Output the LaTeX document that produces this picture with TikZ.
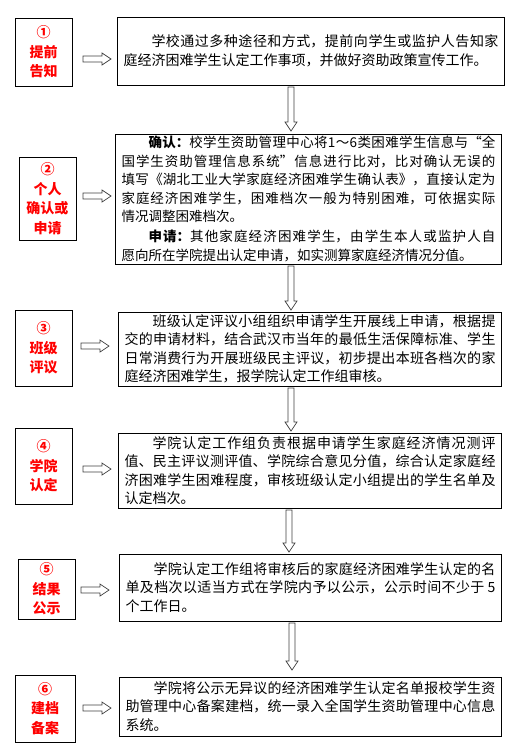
\documentclass[tikz,border=0pt]{standalone}
\usepackage{fontspec}
\setmainfont{Noto Sans CJK SC}
\usetikzlibrary{arrows.meta, positioning, calc}
\XeTeXlinebreaklocale "zh"
\XeTeXlinebreakskip = 0pt plus 4pt
\tikzset{
  stagebox/.style={draw, line width=0.8pt, text=red, align=center,
    font=\fontsize{14}{19.5}\selectfont\bfseries, inner sep=2pt},
  textbox/.style={draw, line width=0.8pt, align=justify, inner xsep=6pt, inner ysep=2pt,
    font=\fontsize{14}{18.5}\selectfont},
  blockarrow/.style={draw=black!75, fill=white, line width=0.7pt}
}
\newcommand{\harrow}[2]{\draw[blockarrow] ($(#1)+(0,-3)$) -- ($(#2)+(-9,-3)$) -- ($(#2)+(-9,-6)$) -- (#2)
  -- ($(#2)+(-9,6)$) -- ($(#2)+(-9,3)$) -- ($(#1)+(0,3)$) -- cycle;}
\newcommand{\varrow}[2]{\draw[blockarrow] ($(#1)+(-3,0)$) -- ($(#2)+(-3,-9)$) -- ($(#2)+(-6,-9)$) -- (#2)
  -- ($(#2)+(6,-9)$) -- ($(#2)+(3,-9)$) -- ($(#1)+(3,0)$) -- cycle;}
\begin{document}
\begin{tikzpicture}[x=1pt, y=-1pt]
  \useasboundingbox (0,0) rectangle (527,755);
  % stages
  \node[stagebox, minimum width=57, minimum height=68] (s1) at (43.5,52) {①\\提前\\告知};
  \node[stagebox, minimum width=57, minimum height=83] (s2) at (47.5,198.5) {②\\个人\\确认或\\申请};
  \node[stagebox, minimum width=57, minimum height=76] (s3) at (43.5,348) {③\\班级\\评议};
  \node[stagebox, minimum width=57, minimum height=76] (s4) at (43.5,466) {④\\学院\\认定};
  \node[stagebox, minimum width=57, minimum height=60] (s5) at (46.5,589) {⑤\\结果\\公示};
  \node[stagebox, minimum width=60, minimum height=67] (s6) at (45,708.5) {⑥\\建档\\备案};
  % descriptions
  \node[textbox, text width=375pt, minimum height=68] (t1) at (311,51) {\hspace*{2em}学校通过多种途径和方式，提前向学生或监护人告知家\linebreak 庭经济困难学生认定工作事项，并做好资助政策宣传工作。};
  \node[textbox, font=\fontsize{13.5}{18.5}\selectfont, text width=374pt, minimum height=130] (t2) at (308.5,199) {\hspace*{2em}\textbf{确认：}校学生资助管理中心将1～6类困难学生信息与“全\linebreak 国学生资助管理信息系统”信息进行比对，比对确认无误的\linebreak 填写《湖北工业大学家庭经济困难学生确认表》，直接认定为\linebreak 家庭经济困难学生，困难档次一般为特别困难，可依据实际\linebreak 情况调整困难档次。\par\vspace{1.5pt}\hspace*{2em}\textbf{申请：}其他家庭经济困难学生，由学生本人或监护人自\linebreak 愿向所在学院提出认定申请，如实测算家庭经济情况分值。};
  \node[textbox, text width=371pt, minimum height=74] (t3) at (310,349) {\hspace*{2em}班级认定评议小组组织申请学生开展线上申请，根据提\linebreak 交的申请材料，结合武汉市当年的最低生活保障标准、学生\linebreak 日常消费行为开展班级民主评议，初步提出本班各档次的家\linebreak 庭经济困难学生，报学院认定工作组审核。};
  \node[textbox, text width=371pt, minimum height=75] (t4) at (310,470.5) {\hspace*{2em}学院认定工作组负责根据申请学生家庭经济情况测评\linebreak 值、民主评议测评值、学院综合意见分值，综合认定家庭经\linebreak 济困难学生困难程度，审核班级认定小组提出的学生名单及\linebreak 认定档次。};
  \node[textbox, text width=370pt, minimum height=67] (t5) at (310.5,587.5) {\hspace*{2em}学院认定工作组将审核后的家庭经济困难学生认定的名\linebreak 单及档次以适当方式在学院内予以公示，公示时间不少于 5\linebreak 个工作日。};
  \node[textbox, text width=370pt, minimum height=59] (t6) at (310.5,706.5) {\hspace*{2em}学院将公示无异议的经济困难学生认定名单报校学生资\linebreak 助管理中心备案建档，统一录入全国学生资助管理中心信息\linebreak 系统。};
  % arrows stage -> description
  \coordinate (h1a) at (83,59);  \coordinate (h1b) at (111,59);
  \coordinate (h2a) at (83,196); \coordinate (h2b) at (111,196);
  \coordinate (h3a) at (81,346); \coordinate (h3b) at (109,346);
  \coordinate (h4a) at (83,469); \coordinate (h4b) at (111,469);
  \coordinate (h5a) at (81,590); \coordinate (h5b) at (109,590);
  \coordinate (h6a) at (83,708); \coordinate (h6b) at (111,708);
  \foreach \i in {1,...,6} {\harrow{h\i a}{h\i b}}
  % arrows down the chain
  \coordinate (v1a) at (291,87);  \coordinate (v1b) at (291,131);
  \coordinate (v2a) at (291,266); \coordinate (v2b) at (291,310);
  \coordinate (v3a) at (291,388); \coordinate (v3b) at (291,431);
  \coordinate (v4a) at (289,510); \coordinate (v4b) at (289,552);
  \coordinate (v5a) at (292,623); \coordinate (v5b) at (292,670);
  \foreach \i in {1,...,5} {\varrow{v\i a}{v\i b}}
\end{tikzpicture}
\end{document}
